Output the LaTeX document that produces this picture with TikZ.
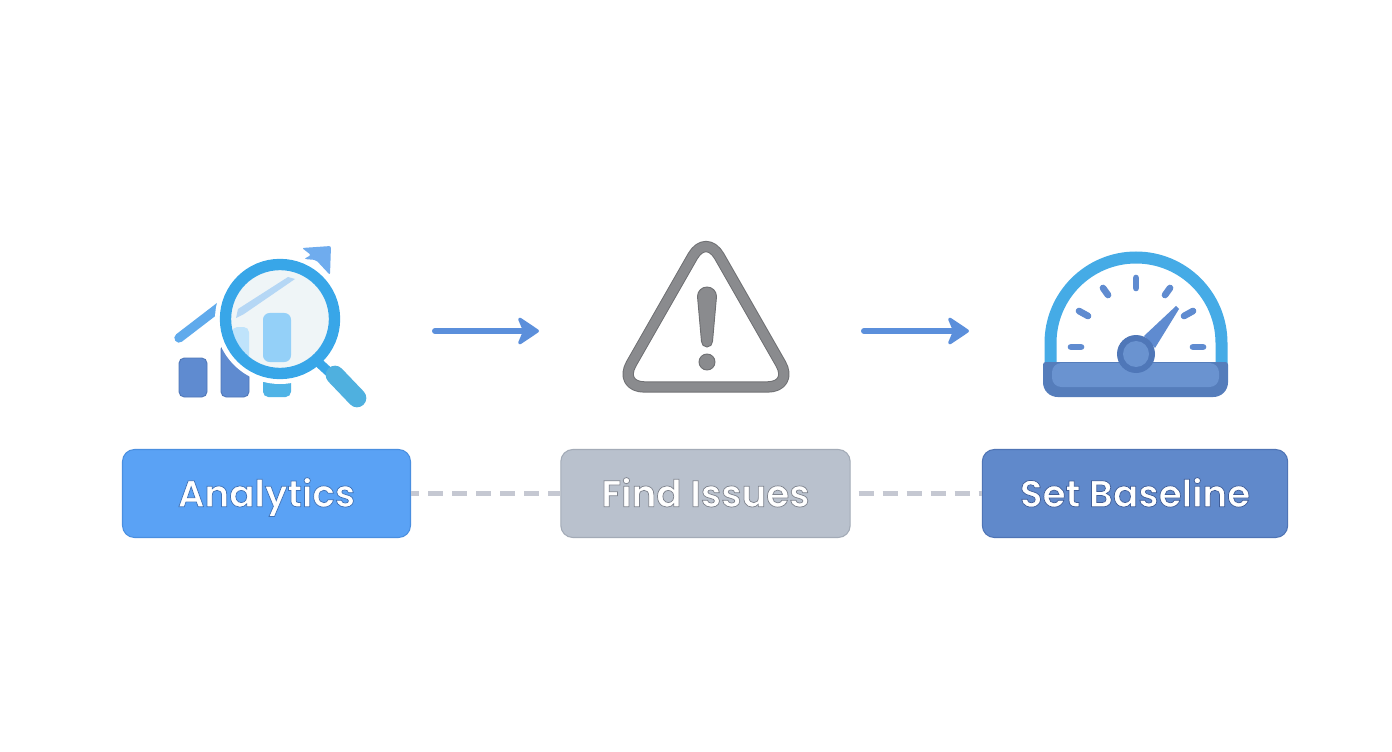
\documentclass[tikz,border=0pt]{standalone}
\usepackage{fontspec}
\setmainfont{Poppins}[BoldFont={Poppins SemiBold}]
\usetikzlibrary{arrows.meta}
\definecolor{bluebtn}{HTML}{5AA2F5}
\definecolor{bluebdr}{HTML}{4A8FE0}
\definecolor{greybtn}{HTML}{B9C1CD}
\definecolor{greybdr}{HTML}{A3ABB7}
\definecolor{navybtn}{HTML}{6089CB}
\definecolor{navybdr}{HTML}{4F74B5}
\definecolor{dashc}{HTML}{C5C8D2}
\definecolor{arrowc}{HTML}{5B8FDB}
\definecolor{ringc}{HTML}{38A6E8}
\definecolor{lensc}{HTML}{EFF5F7}
\definecolor{barc}{HTML}{5F8BD0}
\definecolor{barb}{HTML}{4F77B8}
\definecolor{barlt}{HTML}{4FB3E6}
\definecolor{handlec}{HTML}{4FB0DF}
\definecolor{topar}{HTML}{6FACEE}
\definecolor{innerbar}{HTML}{94D0F8}
\definecolor{innerln}{HTML}{B5D7F5}
\definecolor{triedge}{HTML}{6F7073}
\definecolor{trifill}{HTML}{8A8B8E}
\definecolor{gaugeb}{HTML}{45ABE6}
\definecolor{basec}{HTML}{6A93D0}
\newcommand\outl[2]{\special{pdf:code 2 Tr 0.55 w #1 RG}#2\special{pdf:code 0 Tr 1 w}}
\tikzset{
  btn/.style={rounded corners=9pt,minimum height=66pt,line width=.8pt,text=white,font=\fontsize{28pt}{32pt}\selectfont\bfseries,inner sep=0pt,text height=24pt,text depth=4pt},
  dashline/.style={dashc,line width=3.7pt},
  flow/.style={arrowc,line width=4.5pt,line cap=round,-{Stealth[length=18pt,width=24pt,inset=5pt,round,line width=2.5pt]}},
  tick/.style={barc,line width=5pt,line cap=round},
}
\begin{document}
\begin{tikzpicture}[x=.75pt,y=-.75pt]
\useasboundingbox (0,0) rectangle (1392,752);
\fill[white] (0,0) rectangle (1392,752);
% analytics icon
\fill[barc,draw=barb,line width=.7pt,rounded corners=4pt] (179,358) rectangle (207,397);
\fill[barc,draw=barb,line width=.7pt,rounded corners=4pt] (221,344) rectangle (249,397);
\fill[barlt,rounded corners=4pt] (263,370) rectangle (291,397);
\draw[topar!70!ringc,line width=7pt,line cap=round] (179,338) -- (222,305);
\fill[topar,rounded corners=1.5pt] (302,248) -- (331,246) -- (330,275) -- (316,260) -- (304,259) -- (311,255) -- cycle;
\fill[white] (280,319) circle (65);
\fill[lensc] (280,319) circle (55);
\begin{scope}
\clip (280,319) circle (49);
\fill[innerbar!60!white,rounded corners=4pt] (232,327) rectangle (249,370);
\fill[innerbar,rounded corners=5pt] (263,313) rectangle (291,362);
\fill[innerln] (238,309) -- (288,277) -- (295,279) -- (244,314) -- (236,318) -- cycle;
\end{scope}
\draw[ringc,line width=8.5pt] (280,319) circle (54.5);
\draw[ringc,line width=7pt] (318,362) -- (330,373);
\draw[handlec,line width=14pt,line cap=round] (335,375) -- (357,398);
% warning icon
\draw[triedge,line width=8.5pt,line join=round,rounded corners=20pt,fill=white] (706,233) -- (618,387) -- (794,387) -- cycle;
\draw[trifill,line width=7pt,line join=round,rounded corners=20pt] (706,233) -- (618,387) -- (794,387) -- cycle;
\fill[trifill,draw=triedge,line width=.7pt] (697.5,296.5) arc[start angle=180,end angle=360,radius=9.5] -- (712.5,341.5) arc[start angle=0,end angle=180,radius=5.5] -- cycle;
\fill[trifill,draw=triedge,line width=.7pt] (707,362) circle (8);
% gauge icon
\draw[gaugeb,line width=9pt] (1050.5,365) -- (1050.5,343) arc[start angle=180,end angle=360,radius=85.5] -- (1221.5,365);
\draw[tick] (1071,347) -- (1081,347);
\draw[tick] (1079,311) -- (1088,316);
\draw[tick] (1103,288) -- (1108,295);
\draw[tick] (1136,278) -- (1136,288);
\draw[tick] (1170,288) -- (1165,295);
\draw[tick] (1193,311) -- (1184,316);
\draw[tick] (1193,347) -- (1203,347);
\fill[barc!90!black,rounded corners=2pt] (1043,362) -- (1228,362) -- (1228,380) [rounded corners=11pt] -- (1228,397) -- (1043,397) [rounded corners=2pt] -- (1043,380) -- cycle;
\fill[basec,rounded corners=7pt] (1052,363) -- (1219,363) -- (1219,387) -- (1052,387) -- cycle;
\fill[barc] (1176,306) -- (1179,309) -- (1155,348) -- (1144,336) -- cycle;
\fill[barb] (1136,354) circle (19);
\fill[basec] (1136,354) circle (13);
% flow arrows
\coordinate (a1s) at (435,331); \coordinate (a1e) at (539,331);
\coordinate (a2s) at (864,331); \coordinate (a2e) at (969,331);
\draw[flow] (a1s) -- (a1e);
\draw[flow] (a2s) -- (a2e);
% buttons
\node[btn,fill=bluebtn,draw=bluebdr,minimum width=216pt] (analytics) at (266.5,493.5) {\outl{0.25 0.45 0.72}{Analytics}};
\node[btn,fill=greybtn,draw=greybdr,minimum width=217pt] (issues) at (705.5,493.5) {\outl{0.5 0.52 0.56}{Find Issues}};
\node[btn,fill=navybtn,draw=navybdr,minimum width=229pt] (baseline) at (1135,493.5) {\outl{0.25 0.37 0.6}{Set Baseline}};
\draw[dashline,dash pattern=on 11.25pt off 6.75pt,dash phase=5.25pt] (analytics.east) -- (issues.west);
\draw[dashline,dash pattern=on 11.25pt off 6.75pt,dash phase=12pt] (issues.east) -- (baseline.west);
\end{tikzpicture}
\end{document}
